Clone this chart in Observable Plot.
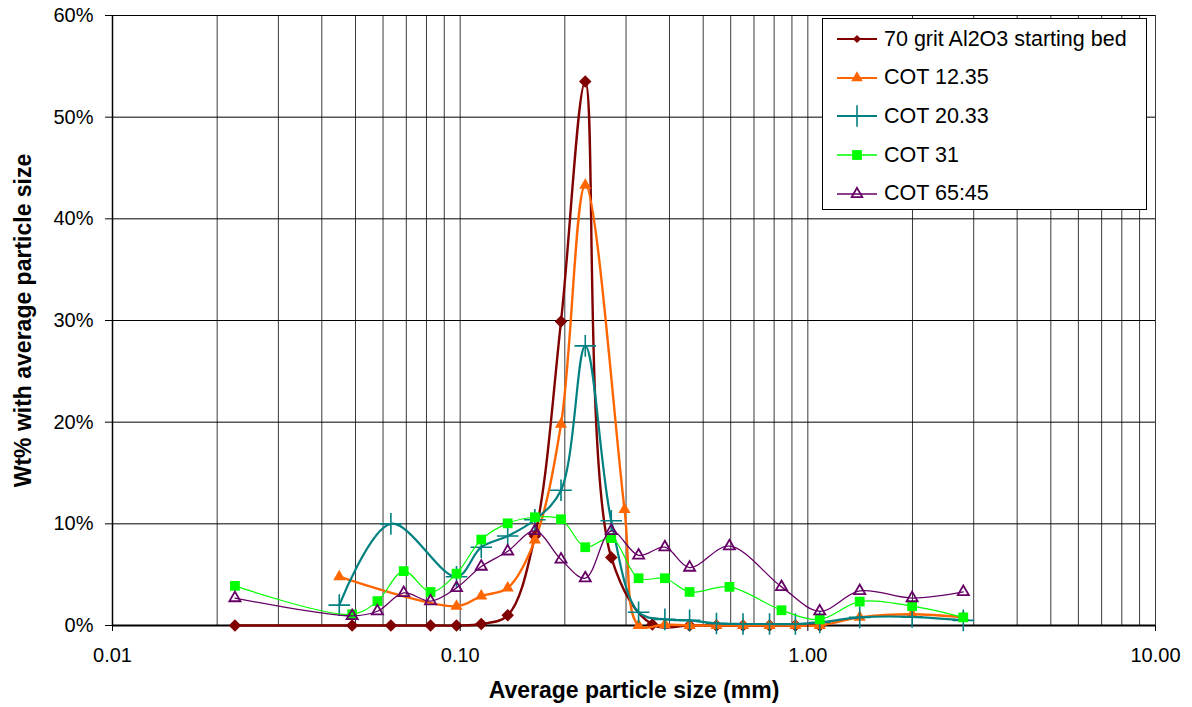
<!DOCTYPE html>
<html><head><meta charset="utf-8">
<script src="https://cdn.jsdelivr.net/npm/d3@7"></script>
<script src="https://cdn.jsdelivr.net/npm/@observablehq/plot@0.6"></script>
<style>
body{margin:0;background:#fff;font-family:"Liberation Sans",Arial,sans-serif;}
#wrap{position:relative;width:1192px;height:707px;overflow:hidden;}
#legend{position:absolute;left:822px;top:18px;width:325px;height:192px;border:1px solid #000;background:#fff;box-sizing:border-box;padding-top:1px;}
.row{display:flex;align-items:center;height:38.6px;}
.row svg{margin-left:12px;flex:none;}
.row span{margin-left:5px;font-size:21.5px;color:#000;white-space:nowrap;}
</style></head><body><div id="wrap"></div>
<script>
// ---- data ----
const seriesNames = ["70 grit Al2O3 starting bed", "COT 12.35", "COT 20.33", "COT 31", "COT 65:45"];
const seriesColors = ["#800000", "#ff6600", "#008080", "#00ff00", "#660066"];

const redX = [0.0225, 0.0489, 0.0632, 0.0822, 0.0976, 0.115, 0.137, 0.164, 0.195, 0.229, 0.272, 0.357, 0.457, 0.546, 0.651, 0.776, 0.921, 1.082];
const redY = [0, 0, 0, 0, 0, 0.15, 1.0, 8.8, 29.9, 53.5, 6.7, 0.1, 0, 0, 0, 0, 0, 0];

const orangeX = [0.0449, 0.0976, 0.115, 0.137, 0.164, 0.195, 0.229, 0.297, 0.326, 0.388, 0.457, 0.546, 0.651, 0.776, 0.921, 1.082, 1.41, 1.995, 2.8];
const orangeY = [4.8, 1.9, 2.9, 3.7, 8.4, 19.8, 43.3, 11.4, 0, 0.1, 0, 0, 0, 0, 0, 0, 0.8, 1.1, 0.8];

const tealX = [0.0449, 0.0632, 0.0976, 0.115, 0.137, 0.164, 0.195, 0.229, 0.272, 0.326, 0.388, 0.457, 0.546, 0.651, 0.776, 0.921, 1.082, 1.41, 1.995, 2.8];
const tealY = [2.0, 10.0, 4.8, 7.7, 8.8, 10.4, 13.3, 27.5, 10.3, 1.3, 0.6, 0.5, 0.2, 0.15, 0.15, 0.15, 0.3, 0.8, 0.85, 0.5];

const greenX = [0.0225, 0.0489, 0.0578, 0.0688, 0.0822, 0.0976, 0.115, 0.137, 0.164, 0.195, 0.229, 0.272, 0.326, 0.388, 0.457, 0.595, 0.84, 1.082, 1.41, 1.995, 2.8];
const greenY = [3.9, 1.1, 2.4, 5.35, 3.3, 5.1, 8.45, 10.05, 10.65, 10.45, 7.7, 8.6, 4.65, 4.65, 3.3, 3.8, 1.5, 0.6, 2.35, 1.9, 0.8];

const purpleX = greenX;
const purpleY = [2.7, 0.95, 1.4, 3.2, 2.4, 3.7, 5.8, 7.3, 9.3, 6.5, 4.65, 9.3, 6.9, 7.7, 5.7, 7.8, 3.8, 1.4, 3.4, 2.7, 3.3];

const xTicks = [0.01, 0.1, 1, 10];
const yTicks = [0, 10, 20, 30, 40, 50, 60];
const gridX = [0.02, 0.03, 0.04, 0.05, 0.06, 0.07, 0.08, 0.09, 0.1, 0.2, 0.3, 0.4, 0.5, 0.6, 0.7, 0.8, 0.9, 1, 2, 3, 4, 5, 6, 7, 8, 9, 10];
const gridY = [10, 20, 30, 40, 50, 60];
const xTitle = "Average particle size (mm)";
const yTitle = "Wt% with average particle size";

// ---- build ----
const toRows = (xs, ys) => xs.map((x, i) => ({x, y: ys[i]}));
const red = toRows(redX, redY), orange = toRows(orangeX, orangeY), teal = toRows(tealX, tealY),
      green = toRows(greenX, greenY), purple = toRows(purpleX, purpleY);

const lineOpts = (c, w) => ({x: "x", y: "y", stroke: c, strokeWidth: w, curve: "catmull-rom"});

const chart = Plot.plot({
  width: 1192, height: 707,
  marginLeft: 112, marginRight: 37, marginTop: 15, marginBottom: 82,
  style: {fontFamily: "Liberation Sans, Arial, sans-serif", background: "#fff", color: "#000"},
  x: {type: "log", domain: [0.01, 10]},
  y: {domain: [0, 60]},
  marks: [
    Plot.ruleX(gridX, {stroke: "#3a3a3a", strokeWidth: 1}),
    Plot.ruleY(gridY, {stroke: "#000", strokeWidth: 1}),
    Plot.ruleX([0.01], {stroke: "#000", strokeWidth: 1.5}),
    Plot.ruleY([0], {stroke: "#000", strokeWidth: 2}),
    Plot.line(red, lineOpts(seriesColors[0], 2.4)),
    Plot.dot(red, {x: "x", y: "y", symbol: "square", rotate: 45, r: 5.0, fill: seriesColors[0], stroke: "none"}),
    Plot.line(orange, lineOpts(seriesColors[1], 2.4)),
    Plot.dot(orange, {x: "x", y: "y", symbol: "triangle", r: 4.5, fill: seriesColors[1], stroke: "none"}),
    Plot.line(teal, lineOpts(seriesColors[2], 2.2)),
    Plot.dot(teal, {x: "x", y: "y", symbol: "plus", r: 7, stroke: seriesColors[2], strokeWidth: 1.6, fill: "none"}),
    Plot.line(green, lineOpts(seriesColors[3], 1.2)),
    Plot.dot(green, {x: "x", y: "y", symbol: "square", r: 5.5, fill: seriesColors[3], stroke: "none"}),
    Plot.line(purple, lineOpts(seriesColors[4], 1.3)),
    Plot.dot(purple, {x: "x", y: "y", symbol: "triangle2", r: 5.3, stroke: seriesColors[4], strokeWidth: 1.8, fill: "none"}),
    Plot.axisX(xTicks, {tickSize: 6, tickPadding: 16, fontSize: 20, tickFormat: d => d.toFixed(2), label: null}),
    Plot.axisY(yTicks, {tickSize: 7, tickPadding: 12, fontSize: 20, tickFormat: d => d + "%", label: null}),
    Plot.text([xTitle], {frameAnchor: "bottom", dy: 65, fontSize: 23, fontWeight: "bold", lineAnchor: "middle", textAnchor: "middle"}),
    Plot.text([yTitle], {frameAnchor: "left", dx: -89, rotate: -90, fontSize: 23, fontWeight: "bold", lineAnchor: "middle", textAnchor: "middle"})
  ]
});
const wrap = document.getElementById("wrap");
wrap.appendChild(chart);

// legend
const legend = document.createElement("div");
legend.id = "legend";
const symbols = [
  {type: d3.symbolSquare, size: 34, rotate: 45, fill: true},
  {type: d3.symbolTriangle, size: 58, fill: true},
  {type: d3.symbolPlus, size: 150, fill: false, sw: 1.6},
  {type: d3.symbolSquare, size: 96, fill: true},
  {type: d3.symbolTriangle2, size: 80, fill: false, sw: 1.8}
];
seriesNames.forEach((name, i) => {
  const row = document.createElement("div");
  row.className = "row";
  const s = symbols[i];
  const c = seriesColors[i];
  const path = d3.symbol(s.type, s.size)();
  const lw = i >= 3 ? 1.3 : 2;
  row.innerHTML = `<svg width="44" height="22"><line x1="2" x2="42" y1="11" y2="11" stroke="${c}" stroke-width="${lw}"/>` +
    `<path d="${path}" transform="translate(22,11) rotate(${s.rotate || 0})" fill="${s.fill ? c : "none"}" stroke="${s.fill ? "none" : c}" stroke-width="${s.sw || 0}"/></svg>` +
    `<span>${name}</span>`;
  legend.appendChild(row);
});
wrap.appendChild(legend);
</script>
</body></html>
